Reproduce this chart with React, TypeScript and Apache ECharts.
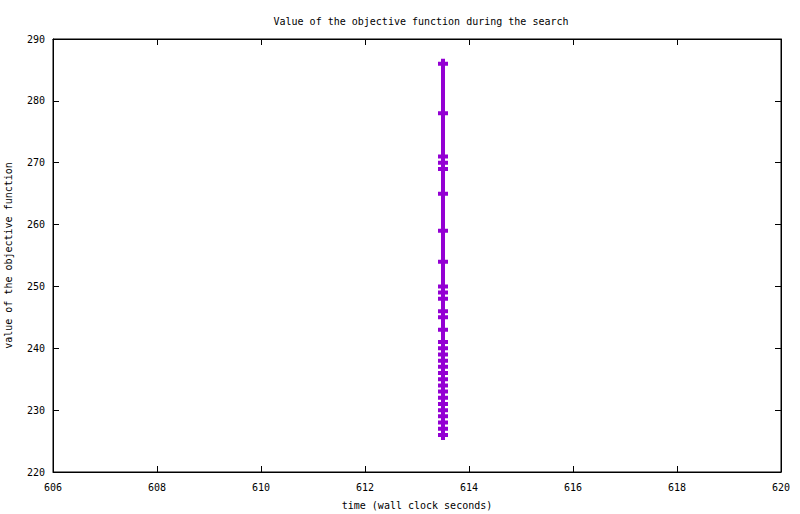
import React, { useEffect, useRef } from "react";
import * as echarts from "echarts";

const titleText = "Value of the objective function during the search";
const xName = "time (wall clock seconds)";
const yName = "value of the objective function";

const xMin = 606;
const xMax = 620;
const xStep = 2;
const yMin = 220;
const yMax = 290;
const yStep = 10;

const times = [
  613.5, 613.5, 613.5, 613.5, 613.5, 613.5, 613.5, 613.5, 613.5, 613.5,
  613.5, 613.5, 613.5, 613.5, 613.5, 613.5, 613.5, 613.5, 613.5, 613.5,
  613.5, 613.5, 613.5, 613.5, 613.5, 613.5, 613.5, 613.5, 613.5, 613.5,
];
const values = [
  286, 278, 271, 270, 269, 265, 259, 254, 250, 249,
  248, 246, 245, 243, 241, 240, 239, 238, 237, 236,
  235, 234, 233, 232, 231, 230, 229, 228, 227, 226,
];

const FONT = "'DejaVu Sans Mono', 'Liberation Mono', monospace";
const COLOR = "#9400D3";

export default function App() {
  const ref = useRef<HTMLDivElement>(null);

  useEffect(() => {
    if (!ref.current) return;
    const chart = echarts.init(ref.current, null, { renderer: "svg" });
    const data = times.map((t, i) => [t, values[i]]);
    const axisLine = { show: true, lineStyle: { color: "#000", width: 1 } };
    const tick = { show: true, inside: true, length: 6, lineStyle: { color: "#000", width: 1 } };
    const label = { color: "#000", fontFamily: FONT, fontSize: 10 };
    chart.setOption({
      animation: false,
      backgroundColor: "#fff",
      title: {
        text: titleText,
        left: 416,
        top: 11,
        textAlign: "center",
        textStyle: { fontFamily: FONT, fontSize: 10, fontWeight: "normal", color: "#000" },
      },
      grid: {
        left: 53,
        right: 19,
        top: 39,
        bottom: 42,
        show: true,
        borderColor: "#000",
        borderWidth: 1,
        containLabel: false,
        outerBoundsMode: "none",
      },
      xAxis: [
        {
          type: "value",
          position: "bottom",
          min: xMin,
          max: xMax,
          interval: xStep,
          name: xName,
          nameLocation: "middle",
          nameGap: 28,
          nameTextStyle: label,
          axisLine,
          axisTick: tick,
          axisLabel: { ...label, margin: 10 },
          splitLine: { show: false },
        },
        {
          type: "value",
          position: "top",
          min: xMin,
          max: xMax,
          interval: xStep,
          axisLine,
          axisTick: tick,
          axisLabel: { show: false },
          splitLine: { show: false },
        },
      ],
      yAxis: [
        {
          type: "value",
          position: "left",
          min: yMin,
          max: yMax,
          interval: yStep,
          name: yName,
          nameLocation: "middle",
          nameGap: 40,
          nameRotate: 90,
          nameTextStyle: label,
          axisLine,
          axisTick: tick,
          axisLabel: { ...label, margin: 8 },
          splitLine: { show: false },
        },
        {
          type: "value",
          position: "right",
          min: yMin,
          max: yMax,
          interval: yStep,
          axisLine,
          axisTick: tick,
          axisLabel: { show: false },
          splitLine: { show: false },
        },
      ],
      series: [
        {
          type: "line",
          data,
          xAxisIndex: 0,
          yAxisIndex: 0,
          symbol: "path://M3,0H7V3H10V7H7V10H3V7H0V3H3Z",
          symbolSize: 10,
          showAllSymbol: true,
          lineStyle: { color: COLOR, width: 4 },
          itemStyle: { color: COLOR },
        },
      ],
    });
    return () => chart.dispose();
  }, []);

  return <div ref={ref} style={{ width: 800, height: 514, position: "absolute", left: 0, top: 0 }} />;
}
